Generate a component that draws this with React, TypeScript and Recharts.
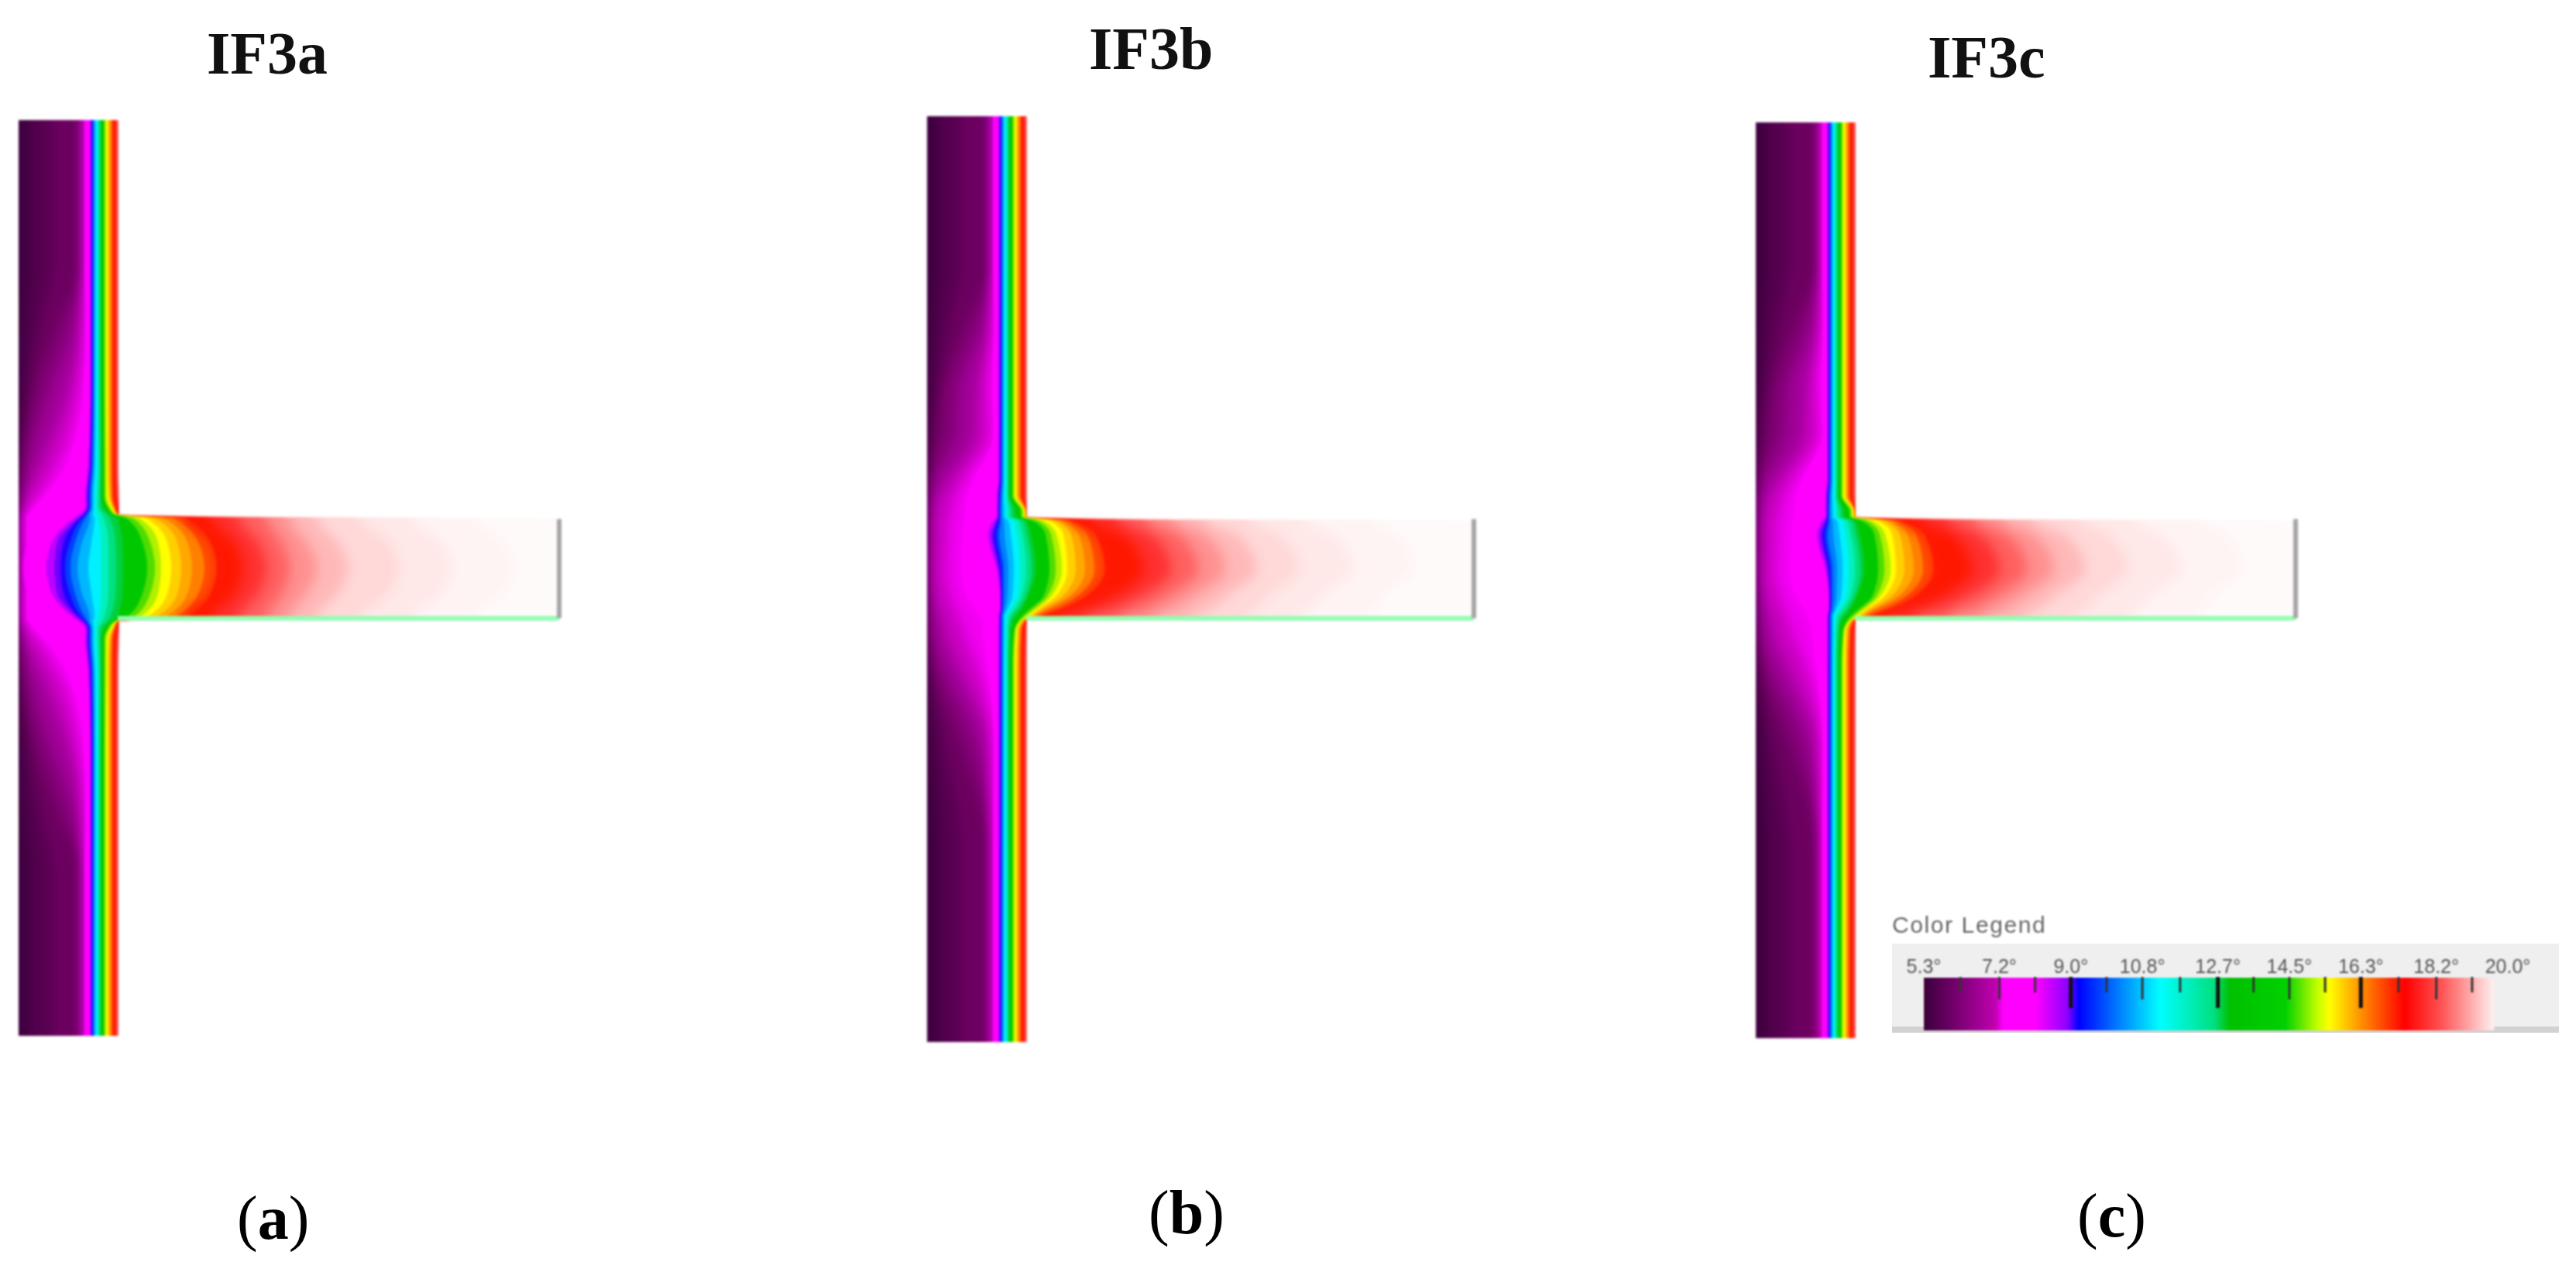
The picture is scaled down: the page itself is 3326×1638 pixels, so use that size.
import React from 'react';
import { AreaChart, Area, XAxis, YAxis, ReferenceLine, BarChart, Bar } from 'recharts';

const PAGE_W = 3326;
const PAGE_H = 1638;
const CHART_W = 800;
const MARGIN_LEFT = 40;

// colour of each temperature band, coldest first
const bandColors = [
  '#3f003f', '#560050', '#6c0060', '#840078', '#a00098', '#c800c0', '#ee00ee', '#ff00ff',
  '#c000ff', '#7000ff', '#2000ff', '#0040ff', '#0080ff', '#00b8ff', '#00f0ff', '#00f0c0',
  '#00e080', '#00d040', '#00c800', '#50dc00', '#b0f000', '#ffff00', '#ffd000', '#ffa800',
  '#ff8000', '#ff5000', '#ff1800', '#ff3030', '#ff6060', '#ff9090', '#ffb8b8', '#ffd8d8',
  '#ffe8e8', '#fff4f4', '#fffafa',
];
const LAST_COLD = 6;
const MAGENTA = 7;
const LAST_SHARP_IN_FIN = 25;

// isotherm positions, outer (cold) face = 0
const wallTail = [92, 93.5, 94.5, 95.5, 96.5, 98, 99.5, 102, 103.5, 105, 106.5, 110, 111.5, 113, 115, 116.5, 118, 120, 121.5, 125, 127, 129];
const headFar = [16, 43, 80, 82, 83, 84, 85];
const head420 = [10, 28, 52, 70, 80, 84, 86];
const head500 = [6, 14, 24, 42, 65, 78, 84];
const rowFar = [...headFar, ...wallTail];
const row420 = [...head420, ...wallTail];
const row500 = [...head500, ...wallTail];

// panel (a): symmetric about the fin
const a600 = [1, 2, 4, 12, 28, 48, 62, 90, 91.5, 93, 94, 95.5, 97, 99, 102, 104, 105.5, 107, 110, 112, 113.5, 115, 116.5, 118, 120, 121.5, 125, 127, 129];
const a640 = [0, 0, 1, 3, 10, 24, 33, 86, 88, 90, 91, 93, 95, 97, 100, 103, 105, 107, 110, 112, 114, 116, 117.5, 119, 120.5, 122, 126, 128, 129.5];
const a655 = [0, 0, 0, 1, 4, 12, 20, 86, 88, 90, 91, 93, 95, 97, 100, 103, 106, 110, 115, 117, 119, 121, 122, 123, 124, 125, 128, 129, 130];
const a664 = [0, 0, 0, 0, 2, 7, 12, 78, 82, 85, 87, 89, 92, 96, 101, 108, 114, 119, 123, 125, 126, 127, 127.5, 128, 128.5, 129, 129.5, 130];
const a669 = [0, 0, 0, 0, 1, 4, 10, 71, 76, 79, 82, 86, 92, 98, 103, 110, 118, 127, 139, 148, 156, 165, 176, 187, 200, 215, 250, 285, 320, 350, 385, 440, 510, 590, 698];
const a700 = [0, 0, 0, 0, 1, 4, 10, 43, 50, 58, 66, 73, 82, 94, 106, 116, 125, 134, 160, 170, 180, 192, 205, 218, 232, 248, 280, 310, 340, 372, 412, 478, 548, 628, 698];
const a735 = [0, 0, 0, 0, 1, 3, 6, 36, 46, 54, 60, 67, 76, 90, 106, 116, 126, 135, 166, 176, 184, 197, 210, 224, 240, 256, 290, 320, 350, 385, 425, 490, 560, 640, 698];
const panelAYs = [155, 340, 420, 500, 600, 640, 655, 664, 669, 700, 733, 766, 797, 802, 811, 826, 866, 966, 1046, 1126, 1337];
const panelARows = [rowFar, rowFar, row420, row500, a600, a640, a655, a664, a669, a700, a735, a700, a669, a664, a655, a640, a600, row500, row420, rowFar, rowFar];

// panels (b) and (c): the junction is slightly asymmetric
const b560 = [2, 6, 18, 38, 62, 80, 86, ...wallTail];
const b620 = [0, 1, 3, 10, 28, 46, 60, ...wallTail];
const b640 = [0, 0, 1, 4, 16, 36, 52, 90, 91.5, 93, 94, 95.5, 97, 99, 102, 103.5, 105, 106.5, 110, 111.5, 113, 115, 116.5, 118, 120, 121.5, 125, 127, 129];
const b660 = [0, 0, 0, 2, 10, 30, 50, 90, 91.5, 92.5, 93.5, 95, 97, 100, 103, 106, 110, 114, 121, 123, 125, 126, 127, 127.5, 128, 128.5, 129];
const b672 = [0, 0, 0, 1, 8, 26, 48, 86, 89, 91, 93, 95, 99, 105, 112, 118, 124, 128, 136, 143, 150, 158, 164, 170, 178, 186, 215, 250, 285, 320, 360, 420, 490, 580, 706];
const b690 = [0, 0, 0, 1, 8, 26, 46, 79, 83, 86, 89, 93, 100, 108, 116, 123, 129, 134, 153, 160, 167, 176, 186, 196, 207, 218, 255, 290, 325, 360, 400, 455, 525, 610, 706];
const b735 = [0, 0, 0, 1, 6, 24, 44, 90, 92, 94, 96, 99, 105, 112, 120, 128, 135, 140, 158, 166, 174, 181, 192, 204, 216, 230, 280, 315, 350, 385, 425, 480, 550, 630, 706];
const b770 = [0, 0, 0, 2, 10, 30, 52, 94, 95, 96, 97, 99, 104, 110, 117, 122, 127, 130, 150, 155, 160, 166, 175, 184, 194, 205, 240, 275, 310, 345, 385, 440, 510, 590, 706];
const b786 = [0, 0, 0, 3, 14, 36, 62, 94, 95, 96, 97, 98, 101, 104, 108, 113, 118, 122, 133, 137, 141, 146, 152, 158, 166, 174, 205, 240, 280, 320, 365, 425, 495, 580, 706];
const b796 = [0, 0, 0, 4, 18, 40, 68, 92, 93.5, 94.5, 95.5, 96.5, 98, 100, 103, 106, 110, 114, 122, 125, 128, 131, 134, 137, 141, 146, 170, 205, 250, 295, 345, 410, 480, 570, 706];
const b801 = [0, 0, 0, 5, 20, 42, 70, 92, 93.5, 94.5, 95.5, 96.5, 98, 100, 103, 105, 108, 111, 118, 120, 122, 123, 124, 125, 126, 127, 128, 129];
const b815 = [0, 0, 1, 6, 22, 46, 72, 92, 93.5, 94.5, 95.5, 96.5, 98, 100, 102, 104, 106, 108, 112, 113.5, 115, 116.5, 118, 119, 121, 122.5, 126, 128, 129];
const b860 = [1, 3, 8, 20, 40, 64, 78, ...wallTail];
const b960 = [8, 22, 44, 64, 78, 84, 86, ...wallTail];
const panelBYs = [150, 340, 420, 500, 560, 620, 640, 660, 667, 672, 690, 735, 770, 786, 796, 801, 815, 860, 960, 1100, 1345];
const panelBRows = [rowFar, rowFar, row420, row500, b560, b620, b640, b660, b660, b672, b690, b735, b770, b786, b796, b801, b815, b860, b960, rowFar, rowFar];
const panelCYs = [158, 340, 420, 500, 560, 620, 640, 660, 667, 672, 690, 735, 770, 786, 796, 801, 815, 860, 960, 1100, 1340];

// colour legend
const legendRange = [5.3, 19.65];
const legendStopT = [5.3, 7.1, 7.3, 8.1, 8.9, 9.2, 10.35, 11.25, 12.6, 13.0, 14.4, 15.2, 15.5, 16.3, 17.4, 18.3, 19.65];
const legendStopC = ['#3a003a', '#c000b0', '#ff00ff', '#ff00ff', '#9000ff', '#0000ff', '#0090ff', '#00ffff', '#00e080', '#00c000', '#00d000', '#c0ff00', '#ffff00', '#ff9000', '#ff0000', '#ff5050', '#fff0f0'];
const legendTicks = [5.3, 6.22, 7.2, 8.1, 9.0, 9.9, 10.8, 11.75, 12.7, 13.6, 14.5, 15.4, 16.3, 17.25, 18.2, 19.1, 20.0];
const legendLabelled = [5.3, 7.2, 9.0, 10.8, 12.7, 14.5, 16.3, 18.2, 20.0];
const legendMajor = [9.0, 12.7, 16.3];
const legendRows = [{ name: 'T', range: legendRange }];

const titles = [
  { text: 'IF3a', left: 267, cy: 69 },
  { text: 'IF3b', left: 1406, cy: 63 },
  { text: 'IF3c', left: 2489, cy: 74 },
];
const captions = [
  { letter: 'a', left: 306, cy: 1572 },
  { letter: 'b', left: 1483, cy: 1565 },
  { letter: 'c', left: 2682, cy: 1569 },
];

type Row = Record<string, number>;

function buildRows(ys: number[], rows: number[][], finEnd: number): Row[] {
  return ys.map((y, r) => {
    const src = rows[r];
    const out: Row = { y };
    bandColors.forEach((_, i) => {
      const v = i < src.length ? src[i] : src[src.length - 1];
      out['b' + i] = Math.min(v, finEnd);
    });
    return out;
  });
}

function Layer({ data, bands, children }: { data: Row[]; bands: { band: number; from: number | null; extra?: number }[]; children?: React.ReactNode }) {
  return (
    <AreaChart width={CHART_W + MARGIN_LEFT} height={PAGE_H} layout="vertical" data={data} margin={{ top: 0, right: 0, bottom: 0, left: 0 }}>
      <XAxis type="number" domain={[-MARGIN_LEFT, CHART_W]} hide />
      <YAxis type="number" dataKey="y" domain={[0, PAGE_H]} hide />
      {bands.map(({ band, from, extra }) => (
        <Area
          key={band}
          dataKey={(r: Row) => [from === null ? -MARGIN_LEFT : r['b' + from], r['b' + band] + (extra || 0)]}
          type="monotone"
          fill={children ? 'none' : bandColors[band]}
          fillOpacity={1}
          stroke="none"
          dot={false}
          activeDot={false}
          isAnimationActive={false}
        />
      ))}
      {children}
    </AreaChart>
  );
}

function Panel({ left, data, finEnd }: { left: number; data: Row[]; finEnd: number }) {
  const top = data[0].y;
  const bottom = data[data.length - 1].y;
  const all = bandColors.map((_, i) => i).reverse();
  // cold zone: smooth under-layer; magenta reaches under the sharp bands
  const cold = [
    { band: MAGENTA, from: null, extra: 60 },
    ...all.filter((i) => i <= LAST_COLD).map((band) => ({ band, from: null })),
  ];
  const sharp = [
    ...all.filter((i) => i > MAGENTA).map((band) => ({ band, from: MAGENTA })),
    { band: MAGENTA, from: LAST_COLD },
  ];
  const pale = all.filter((i) => i > LAST_SHARP_IN_FIN).map((band) => ({ band, from: LAST_SHARP_IN_FIN }));
  const coldData = [{ ...data[0], y: top - 40 }, ...data, { ...data[data.length - 1], y: bottom + 40 }];
  const finRows = data.filter((r) => r.b34 > 300);
  const finData = [{ ...finRows[0], y: finRows[0].y - 30 }, ...finRows, { ...finRows[finRows.length - 1], y: finRows[finRows.length - 1].y + 30 }];
  const box = { position: 'absolute', left: 0, top: 0 } as const;
  const full = { width: CHART_W + MARGIN_LEFT, height: PAGE_H };
  const finTop = finRows[0].y;
  const finBottom = finRows[finRows.length - 1].y;
  return (
    <div style={{ position: 'absolute', left: left - MARGIN_LEFT, top: 0, ...full, filter: 'blur(1.6px)' }}>
      <div style={{ ...box, ...full, clipPath: `inset(${top}px ${CHART_W - 120}px ${PAGE_H - bottom}px ${MARGIN_LEFT}px)` }}>
        <div style={{ ...box, filter: 'blur(7px)' }}>
          <Layer data={coldData} bands={cold} />
        </div>
      </div>
      <div style={box}>
        <Layer data={data} bands={sharp} />
      </div>
      <div style={{ ...box, ...full, clipPath: `inset(${finTop}px ${CHART_W - finEnd}px ${PAGE_H - finBottom}px ${MARGIN_LEFT}px)` }}>
        <div style={{ ...box, filter: 'blur(8px)' }}>
          <Layer data={finData} bands={pale} />
        </div>
      </div>
      <div style={box}>
        <Layer data={data} bands={[{ band: 34, from: null }]}>
          <ReferenceLine segment={[{ x: 128, y: 798 }, { x: finEnd, y: 798 }]} stroke="#90ffb0" strokeWidth={6} />
          <ReferenceLine segment={[{ x: finEnd, y: 670 }, { x: finEnd, y: 798 }]} stroke="#a4a4a4" strokeWidth={6} />
        </Layer>
      </div>
    </div>
  );
}

function LegendTick(props: any) {
  const { x, y, payload } = props;
  const v = payload.value;
  const labelled = legendLabelled.includes(v);
  const major = legendMajor.includes(v);
  const len = v === 5.3 || v === 20.0 ? 0 : major ? 40 : labelled ? 29 : 20;
  return (
    <g>
      {labelled && (
        <text x={x} y={y - 4} textAnchor="middle" fontFamily="Liberation Sans" fontSize={25} fill="#555">
          {v.toFixed(1) + '°'}
        </text>
      )}
      {len > 0 && <line x1={x} x2={x} y1={y + 1} y2={y + 1 + len} stroke={major ? '#111' : '#333'} strokeWidth={major ? 5 : 3} />}
    </g>
  );
}

function ColorLegend() {
  return (
    <>
      <div style={{ position: 'absolute', left: 2443, top: 1176, font: '30px/36px "Liberation Sans"', letterSpacing: 1.6, color: '#666', filter: 'blur(1.3px)' }}>
        Color Legend
      </div>
      <div style={{ position: 'absolute', left: 2443, top: 1218, width: 861, height: 107, background: '#efefef' }} />
      <div style={{ position: 'absolute', left: 2443, top: 1325, width: 861, height: 8, background: '#d2d2d2' }} />
      <div style={{ position: 'absolute', left: 2443, top: 1218, filter: 'blur(1.3px)' }}>
        <BarChart width={861} height={115} layout="vertical" data={legendRows} barCategoryGap={0} margin={{ top: 43, right: 66, bottom: 3, left: 41 }}>
          <defs>
            <linearGradient id="legendGrad" x1="0" y1="0" x2="1" y2="0">
              {legendStopT.map((t, i) => (
                <stop key={t} offset={(t - legendRange[0]) / (legendRange[1] - legendRange[0])} stopColor={legendStopC[i]} />
              ))}
            </linearGradient>
          </defs>
          <YAxis type="category" dataKey="name" hide />
          <Bar dataKey="range" fill="url(#legendGrad)" isAnimationActive={false} />
          <XAxis
            type="number"
            orientation="top"
            domain={[5.3, 20]}
            ticks={legendTicks}
            interval={0}
            height={1}
            axisLine={false}
            tickLine={false}
            tickSize={0}
            tick={(p: any) => <LegendTick {...p} />}
          />
        </BarChart>
      </div>
    </>
  );
}

export default function App() {
  const dataA = buildRows(panelAYs, panelARows, 698);
  const dataB = buildRows(panelBYs, panelBRows, 706);
  const dataC = buildRows(panelCYs, panelBRows, 697);
  return (
    <div style={{ position: 'absolute', left: 0, top: 0, width: PAGE_W, height: PAGE_H, background: '#fff', overflow: 'hidden' }}>
      <Panel left={24} data={dataA} finEnd={698} />
      <Panel left={1197} data={dataB} finEnd={706} />
      <Panel left={2267} data={dataC} finEnd={697} />
      <ColorLegend />
      {titles.map((t) => (
        <div key={t.text} style={{ position: 'absolute', left: t.left, top: t.cy - 50, font: 'bold 78px/100px "Liberation Serif"', color: '#111', filter: 'blur(0.7px)' }}>
          {t.text}
        </div>
      ))}
      {captions.map((c) => (
        <div key={c.letter} style={{ position: 'absolute', left: c.left, top: c.cy - 50, font: '80px/100px "Liberation Serif"', color: '#000' }}>
          (<b>{c.letter}</b>)
        </div>
      ))}
    </div>
  );
}
